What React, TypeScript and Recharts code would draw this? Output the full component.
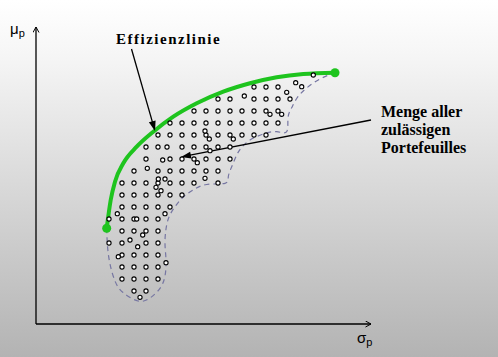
import React from 'react';
import { ComposedChart, XAxis, YAxis, Line, Scatter, ReferenceLine, ReferenceDot } from 'recharts';

// Efficient frontier (sigma, mu) in chart units
const frontier = [
  { x: 70.7, y: 95.7 }, { x: 74.7, y: 124 }, { x: 79, y: 142.3 }, { x: 87.3, y: 160.7 },
  { x: 100.7, y: 177.3 }, { x: 117.3, y: 192.3 }, { x: 137.3, y: 207.3 }, { x: 160.7, y: 220.7 },
  { x: 187.3, y: 232.3 }, { x: 214, y: 240.7 }, { x: 240.7, y: 246.7 }, { x: 267.3, y: 250 },
  { x: 299, y: 251.3 },
];

const frontierEnds = [frontier[0], frontier[frontier.length - 1]];

// Boundary of the feasible set (dashed), traced in order
const boundary = [
  { x: 70.7, y: 95.7 }, { x: 71.5, y: 78 }, { x: 74, y: 60 }, { x: 79, y: 43 }, { x: 87, y: 31.5 },
  { x: 102, y: 23 }, { x: 114, y: 26 }, { x: 124, y: 35.7 }, { x: 129, y: 48 }, { x: 130, y: 64 },
  { x: 129, y: 80 }, { x: 130, y: 95 }, { x: 133, y: 107 }, { x: 139, y: 117.3 }, { x: 147.3, y: 127 },
  { x: 157, y: 134 }, { x: 170.7, y: 139.5 }, { x: 189, y: 140.7 }, { x: 192.3, y: 147.3 },
  { x: 195.7, y: 157.3 }, { x: 200.7, y: 169 }, { x: 205.7, y: 176.7 }, { x: 214, y: 184 },
  { x: 227.3, y: 190 }, { x: 240.7, y: 192.3 }, { x: 250.7, y: 192.3 }, { x: 252, y: 206 },
  { x: 255.5, y: 216 }, { x: 261, y: 226 }, { x: 270, y: 235.5 }, { x: 284, y: 245 }, { x: 299, y: 251.3 },
];

// Regular grid of portfolios: row mu values and the sigma values present in each row
const dotRowY = [237, 225, 213, 201, 189, 177, 165, 153, 141, 129, 117, 105, 93, 81, 69, 57, 45, 33];
const dotRowX = [
  [218, 230, 242],
  [182, 194, 218, 230, 242, 254],
  [158, 170, 182, 194, 206, 218, 230, 242],
  [134, 146, 158, 170, 182, 194, 206, 218, 230, 242],
  [122, 134, 146, 158, 170, 182, 194, 206, 218, 230],
  [110, 122, 131, 146, 158, 170, 182, 194],
  [110, 134, 146, 158, 170, 182, 194],
  [98, 122, 134, 146, 158, 170, 182],
  [86, 98, 110, 122, 134, 146, 158, 182],
  [86, 98, 110, 122, 134, 146],
  [86, 98, 110, 122, 134],
  [73, 86, 98, 110, 122],
  [86, 98, 110, 122],
  [73, 86, 110, 122],
  [86, 98, 110, 122],
  [86, 98, 110, 122],
  [86, 98, 110, 122],
  [98, 110],
];

// Irregular portfolios
const extraDots = [
  { x: 277.3, y: 249 }, { x: 259.7, y: 241.3 }, { x: 265.7, y: 237.3 }, { x: 250.7, y: 231.7 },
  { x: 208.3, y: 228 }, { x: 234, y: 209.7 }, { x: 245.7, y: 209.7 }, { x: 169, y: 193 },
  { x: 197.3, y: 185 }, { x: 173.3, y: 185 }, { x: 174, y: 173.3 }, { x: 126.7, y: 164 },
  { x: 161.3, y: 161.3 }, { x: 111.3, y: 155.7 }, { x: 169, y: 145.7 }, { x: 122.3, y: 145 },
  { x: 129, y: 145 }, { x: 120, y: 136.7 }, { x: 125, y: 133.3 }, { x: 81.3, y: 110.3 },
  { x: 129, y: 110.3 }, { x: 100.7, y: 105 }, { x: 106.7, y: 89 }, { x: 94, y: 84 },
  { x: 101.7, y: 77.3 }, { x: 82.3, y: 67.3 }, { x: 130, y: 61.3 }, { x: 104, y: 26.7 },
];

const portfolios = [
  ...dotRowY.flatMap((y, i) => dotRowX[i].map((x) => ({ x, y }))),
  ...extraDots,
];

const X_DOMAIN = [0, 335];
const Y_DOMAIN = [0, 297];

const serif = "'Liberation Serif', 'DejaVu Serif', serif";
const sans = "'Liberation Sans', Arial, sans-serif";

const arrowShape = (p: any) => {
  const { x1, y1, x2, y2 } = p;
  const dx = x2 - x1;
  const dy = y2 - y1;
  const len = Math.sqrt(dx * dx + dy * dy);
  const ux = dx / len;
  const uy = dy / len;
  const hl = 10;
  const hw = 3.5;
  const bx = x2 - ux * hl;
  const by = y2 - uy * hl;
  const pts = `${x2},${y2} ${bx - uy * hw},${by + ux * hw} ${bx + uy * hw},${by - ux * hw}`;
  return (
    <g>
      <line x1={x1} y1={y1} x2={bx + ux * 2} y2={by + uy * 2} stroke="#000" strokeWidth={1.3} />
      <polygon points={pts} fill="#000" />
    </g>
  );
};

const textShape = (lines: string[], opts: any) => (p: any) => (
  <text x={p.cx} y={p.cy} style={{ fontFamily: serif, fontWeight: 700, fontSize: opts.size, letterSpacing: opts.spacing }}
    fill="#000">
    {lines.map((l, i) => (
      <tspan key={i} x={p.cx} dy={i === 0 ? 0 : opts.lineHeight}>{l}</tspan>
    ))}
  </text>
);

const symbolShape = (main: string, sub: string) => (p: any) => (
  <text x={p.cx} y={p.cy} style={{ fontFamily: sans, fontSize: 15 }} fill="#000">
    {main}
    <tspan style={{ fontSize: 11 }} dy={3}>{sub}</tspan>
  </text>
);

const dotShape = (p: any) => (
  <circle cx={p.cx} cy={p.cy} r={2.1} fill="#fff" stroke="#000" strokeWidth={1.1} />
);

const endShape = (p: any) => <circle cx={p.cx} cy={p.cy} r={4.5} fill="#1ec41e" />;

export default function App() {
  return (
    <div
      style={{
        position: 'absolute',
        left: 0,
        top: 0,
        width: 498,
        height: 357,
        background: 'linear-gradient(to bottom, #ffffff 0%, #f6f6f6 15%, #b3b3b3 100%)',
      }}
    >
      <ComposedChart width={498} height={357} margin={{ top: 27, right: 127, bottom: 32, left: 35 }}>
        <defs>
          <marker id="axArrowEnd" markerWidth={8} markerHeight={8} refX={6} refY={3.5}
            orient="auto" markerUnits="userSpaceOnUse">
            <path d="M0.5,0.5 L6,3.5 L0.5,6.5" fill="none" stroke="#000" strokeWidth={1} />
          </marker>
          <marker id="axArrowStart" markerWidth={8} markerHeight={8} refX={6} refY={3.5}
            orient="auto-start-reverse" markerUnits="userSpaceOnUse">
            <path d="M0.5,0.5 L6,3.5 L0.5,6.5" fill="none" stroke="#000" strokeWidth={1} />
          </marker>
        </defs>
        <XAxis type="number" dataKey="x" domain={X_DOMAIN} allowDataOverflow height={1}
          tick={false} tickLine={false}
          axisLine={{ stroke: '#000', strokeWidth: 1.3, markerEnd: 'url(#axArrowEnd)' }} />
        <YAxis type="number" dataKey="y" domain={Y_DOMAIN} allowDataOverflow width={1}
          tick={false} tickLine={false}
          axisLine={{ stroke: '#000', strokeWidth: 1.3, markerStart: 'url(#axArrowStart)' }} />
        <Line data={boundary} dataKey="y" type="natural" stroke="#7676a2" strokeWidth={1.2}
          strokeDasharray="5 4" dot={false} activeDot={false} isAnimationActive={false} />
        <Line data={frontier} dataKey="y" type="monotone" stroke="#1ec41e" strokeWidth={4}
          dot={false} activeDot={false} isAnimationActive={false} />
        <Scatter data={portfolios} dataKey="y" shape={dotShape} isAnimationActive={false} />
        <Scatter data={frontierEnds} dataKey="y" shape={endShape} isAnimationActive={false} />
        <ReferenceLine segment={[{ x: 95.5, y: 275 }, { x: 119, y: 193 }]} shape={arrowShape} ifOverflow="visible" />
        <ReferenceLine segment={[{ x: 335, y: 204 }, { x: 145, y: 167 }]} shape={arrowShape} ifOverflow="visible" />
        <ReferenceDot x={80} y={280} r={0} ifOverflow="visible"
          shape={textShape(['Effizienzlinie'], { size: 15, spacing: 1.5, lineHeight: 18 })} />
        <ReferenceDot x={345} y={207.5} r={0} ifOverflow="visible"
          shape={textShape(['Menge aller', 'zulässigen', 'Portefeuilles'], { size: 16, spacing: 0, lineHeight: 18 })} />
        <ReferenceDot x={-26} y={290} r={0} ifOverflow="visible" shape={symbolShape('μ', 'p')} />
        <ReferenceDot x={321} y={-19} r={0} ifOverflow="visible" shape={symbolShape('σ', 'p')} />
      </ComposedChart>
    </div>
  );
}
